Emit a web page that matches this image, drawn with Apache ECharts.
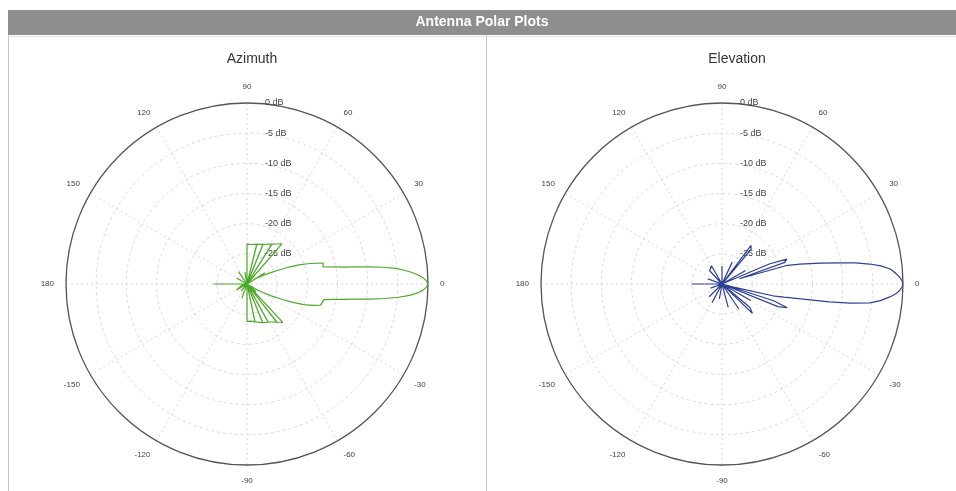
<!DOCTYPE html>
<html>
<head>
<meta charset="utf-8">
<title>Antenna Polar Plots</title>
<script src="https://cdn.jsdelivr.net/npm/echarts@6/dist/echarts.min.js"></script>
</head>
<body style="margin:0;background:#fff">
<div id="container" style="width:956px;height:491px"></div>
<script>
// gain in dB against angle in degrees (-180..180)
let azimuthAngle = [-180, -177, -165, -150, -140, -130, -120, -110, -100, -93,
    -90.1, -90, -84, -78.1, -78, -77.9, -72, -68.1, -68, -67.9, -64, -61.1, -61, -60.9, -56, -52.1, -52, -51.9, -47, -46.9,
    -40, -34, -30, -28, -26, -24, -22, -20, -18, -16, -11.5, -10, -9, -8, -7, -6, -5, -4, -3, -2, -1,
    0, 1, 2, 3, 4, 5, 6, 7, 8, 9, 10, 11, 12.6, 15.4, 18, 20, 22, 24, 26, 28, 30, 32, 36,
    48.9, 49, 53, 58, 58.1, 58.2, 63, 68, 68.1, 68.2, 72, 76, 76.1, 76.2, 83, 90, 90.1,
    100, 110, 125, 135, 150, 165, 178, 180];
let azimuthGain = [-24.4, -30, -29, -28, -30, -28.5, -30, -27.5, -30, -30,
    -30, -23.8, -23.8, -23.6, -30, -23.6, -23.3, -23.1, -30, -23.1, -22.9, -22.8, -30, -22.8, -22.4, -22, -30, -22, -21.3, -30,
    -28, -30, -28, -27, -25.5, -24, -22, -20, -18.5, -17.3, -17, -15.3, -13.8, -12, -9.5, -7, -4.8, -3, -1.7, -0.8, -0.25,
    0, -0.25, -0.8, -1.6, -2.6, -3.8, -5.2, -7.2, -9.5, -11.8, -13.8, -15.2, -17.1, -16.9, -19, -20.6, -22.5, -24.5, -26, -27, -28, -26.5, -30,
    -30, -21.2, -21.7, -22.2, -30, -22.2, -22.6, -22.9, -30, -22.9, -23.1, -23.2, -30, -23.2, -23.4, -23.4, -30,
    -28, -30, -27.5, -30, -28, -30, -30, -24.4];

let elevationAngle = [-180, -177, -160, -150, -135, -125, -118, -112, -100, -90, -75, -65, -56, -50,
    -44, -40, -36, -30, -26, -24, -22, -20, -18, -16, -15, -13, -12, -10.5, -9.5, -8.5, -7.3, -6, -4.4, -3, -2, -1,
    0, 1, 2, 3, 4, 5.1, 6.5, 7.7, 9, 10.1, 12, 14.4, 16, 17, 19, 21, 23, 25, 30, 35,
    47, 50, 53, 56, 65, 75, 90, 105, 120, 133, 145, 160, 170, 177, 180];
let elevationGain = [-25, -30, -28, -30, -27, -30, -26.5, -30, -27.5, -30, -26, -30, -25, -30,
    -23, -24, -30, -24.5, -30, -30, -20, -18.5, -21, -30, -28, -21, -19.5, -16.3, -12, -8.5, -5.3, -3.6, -2.1, -1, -0.5, -0.15,
    0, -0.15, -0.45, -0.9, -1.4, -2, -3.5, -5.3, -7.6, -10.1, -13.3, -16.7, -19, -27, -19, -18.5, -21.5, -30, -25.5, -30,
    -30, -22.5, -22, -30, -26, -30, -27, -30, -26.5, -27, -30, -27.5, -30, -30, -25];

let gainTicks = [0, -5, -10, -15, -20, -25];
let plotTitles = ["Azimuth", "Elevation"];
let plotCenters = [247, 722];

function toPolarData(angles, gains) {
    let data = [];
    for (let i = 0; i < angles.length; i++) {
        let a = angles[i] < 90 ? angles[i] + 360 : angles[i];
        data.push([Math.max(gains[i], -30), a]);
    }
    return data;
}

function angleLabel(v) {
    if (v === 450) return "";
    let a = v % 360;
    if (a > 180) a -= 360;
    return String(a);
}

function makeAngleAxis(index) {
    return {
        polarIndex: index,
        type: "value",
        min: 90,
        max: 450,
        interval: 30,
        startAngle: 90,
        clockwise: false,
        axisLine: { lineStyle: { color: "#555", width: 1.3 } },
        axisTick: { show: false },
        axisLabel: { formatter: angleLabel, color: "#444", fontSize: 8, margin: 12, fontFamily: "Liberation Sans" },
        splitLine: { show: true, lineStyle: { color: "#d6d6d6", type: [2, 3], width: 1 } }
    };
}

function makeRadiusAxis(index) {
    return {
        polarIndex: index,
        type: "value",
        min: -30,
        max: 0,
        interval: 5,
        axisLine: { show: false },
        axisTick: { show: false },
        axisLabel: {
            formatter: function (v) { return gainTicks.indexOf(v) >= 0 ? v + " dB" : ""; },
            color: "#444", fontSize: 9, margin: -18, align: "left", fontFamily: "Liberation Sans"
        },
        splitLine: { show: true, lineStyle: { color: "#d8d8d8", type: [3, 3], width: 1 } }
    };
}

let chart = echarts.init(document.getElementById("container"), null, { renderer: "canvas" });

let titleStyle = { fontSize: 14, fontWeight: "normal", color: "#333", fontFamily: "Liberation Sans" };

let option = {
    animation: false,
    title: [
        { text: plotTitles[0], left: plotCenters[0], top: 47, textAlign: "center", textStyle: titleStyle },
        { text: plotTitles[1], left: plotCenters[1] + 10, top: 47, textAlign: "center", textStyle: titleStyle }
    ],
    graphic: [
        { type: "rect", shape: { x: 8, y: 10, width: 948, height: 25 }, style: { fill: "#8e8e90" } },
        { type: "text", x: 482, y: 22, style: { text: "Antenna Polar Plots", fill: "#fff", font: "bold 14px Liberation Sans", textAlign: "center", textVerticalAlign: "middle" } },
        { type: "line", shape: { x1: 8.5, y1: 35, x2: 8.5, y2: 491 }, style: { stroke: "#c4c4c4", lineWidth: 1 } },
        { type: "line", shape: { x1: 486.5, y1: 35, x2: 486.5, y2: 491 }, style: { stroke: "#c4c4c4", lineWidth: 1 } },
        { type: "line", shape: { x1: 8, y1: 36.5, x2: 956, y2: 36.5 }, style: { stroke: "#e0e0e0", lineWidth: 1 } }
    ],
    polar: [
        { center: [plotCenters[0], 284], radius: 181 },
        { center: [plotCenters[1], 284], radius: 181 }
    ],
    angleAxis: [makeAngleAxis(0), makeAngleAxis(1)],
    radiusAxis: [makeRadiusAxis(0), makeRadiusAxis(1)],
    series: [
        {
            name: "Azimuth", type: "line", coordinateSystem: "polar", polarIndex: 0,
            showSymbol: false, symbol: "none", clip: false,
            lineStyle: { color: "#4ea82c", width: 1.2 },
            data: toPolarData(azimuthAngle, azimuthGain)
        },
        {
            name: "Elevation", type: "line", coordinateSystem: "polar", polarIndex: 1,
            showSymbol: false, symbol: "none", clip: false,
            lineStyle: { color: "#2e3f96", width: 1.2 },
            data: toPolarData(elevationAngle, elevationGain)
        }
    ]
};

chart.setOption(option);
</script>
</body>
</html>
